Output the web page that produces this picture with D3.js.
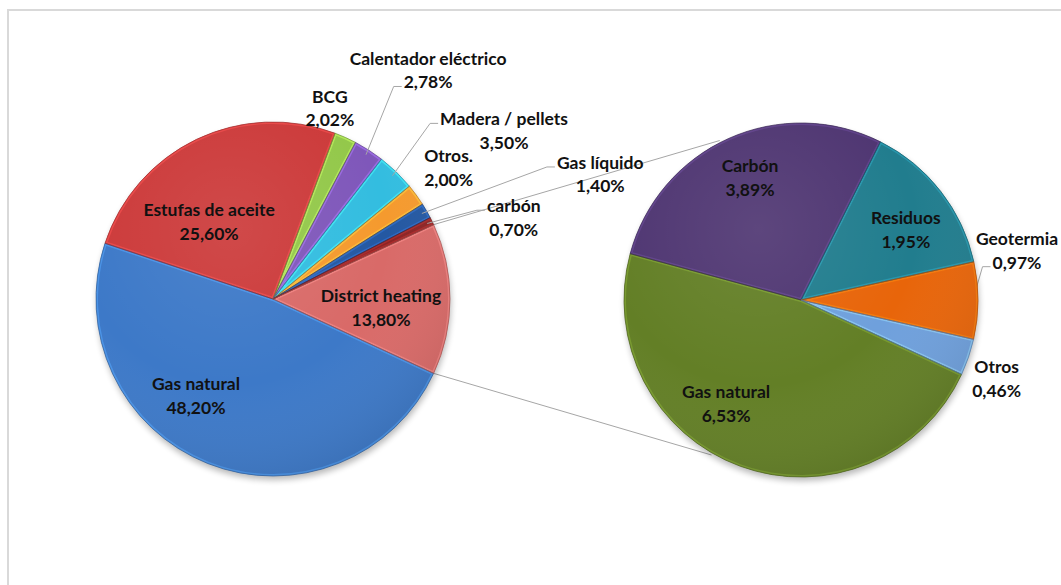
<!DOCTYPE html>
<html><head><meta charset="utf-8">
<script src="https://cdn.jsdelivr.net/npm/d3@7"></script>
<style>body{margin:0;background:#fff}</style>
</head><body><svg id="c" width="1061" height="585"></svg>
<script>
// ---- data ----
const mainCategories = ["Gas natural","Estufas de aceite","BCG","Calentador eléctrico","Madera / pellets","Otros.","Gas líquido","carbón","District heating"];
const mainValues = [48.20, 25.60, 2.02, 2.78, 3.50, 2.00, 1.40, 0.70, 13.80];
const mainColors = ["#3d79c8","#cc3a3a","#93c84a","#7f57ba","#33bde0","#f59a2e","#2458a2","#8c2424","#d96a68"];
const subCategories = ["Gas natural","Carbón","Residuos","Geotermia","Otros"];
const subColors = ["#637f26","#4f3672","#217d8e","#e8650a","#6fa0dc"];
const subValues = [6.53, 3.89, 1.95, 0.97, 0.46];

// ---- layout (label placement in polar coords: screen angle deg, radius px) ----
const mainLabelPos = [[128.4,124],[230.3,100],[286.6,199],[304.2,276],[324,285.6],[323.3,219],[339.2,350],[341.4,254],[4.8,108.4]];
const mainLeader = [null,null,null,1,0,null,0,0,null];
const subLabelPos = [[125.8,128],[247.3,132],[326.3,126],[347.2,221.5],[22,211]];
const subLeader = [null,null,null,1,null];

const svg = d3.select("#c");
const defs = svg.append("defs");
const R = 177;
const mainC = [273, 299], subC = [801, 300];
const rad = d => d * Math.PI / 180;
const polar = (c, ang, r) => [c[0] + r * Math.cos(rad(ang)), c[1] + r * Math.sin(rad(ang))];
const FS = 17.5, LH = 23.5;

// frame
svg.append("rect").attr("x",8).attr("y",10).attr("width",1060).attr("height",600)
  .attr("fill","none").attr("stroke","#d9d9d9").attr("stroke-width",2);

const f = defs.append("filter").attr("id","sh").attr("x","-20%").attr("y","-20%").attr("width","140%").attr("height","140%");
f.append("feGaussianBlur").attr("stdDeviation",3);

const g = defs.append("radialGradient").attr("id","ov").attr("cx","38%").attr("cy","30%").attr("r","80%");
g.append("stop").attr("offset","0%").attr("stop-color","#fff").attr("stop-opacity",0.08);
g.append("stop").attr("offset","55%").attr("stop-color","#fff").attr("stop-opacity",0);
g.append("stop").attr("offset","100%").attr("stop-color","#000").attr("stop-opacity",0.12);

const totalMain = d3.sum(mainValues);
const otherFrac = mainValues[mainValues.length - 1] / totalMain;
const start = Math.PI / 2 + otherFrac * Math.PI;

// connector lines
const dhHalf = otherFrac * 180;
const cTop0 = polar(mainC, -dhHalf, R), cBot0 = polar(mainC, dhHalf, R);
const cTop1 = polar(subC, -117, R + 2), cBot1 = polar(subC, 120, R + 2);
svg.append("line").attr("x1",cTop0[0]).attr("y1",cTop0[1]).attr("x2",cTop1[0]).attr("y2",cTop1[1]).attr("stroke","#a6a6a6").attr("stroke-width",1);
svg.append("line").attr("x1",cBot0[0]).attr("y1",cBot0[1]).attr("x2",cBot1[0]).attr("y2",cBot1[1]).attr("stroke","#a6a6a6").attr("stroke-width",1);

let clipId = 0;
function drawPie(center, cats, vals, cols, labelPos, leaders, key) {
  const pie = d3.pie().sort(null).value(d => d).startAngle(start).endAngle(start + 2 * Math.PI);
  const arcs = pie(vals);
  const arc = d3.arc().innerRadius(0).outerRadius(R);
  const grp = svg.append("g").attr("transform", `translate(${center[0]},${center[1]})`);
  grp.append("circle").attr("cx",1).attr("cy",4).attr("r",R).attr("fill","#000").attr("opacity",0.28).attr("filter","url(#sh)");
  arcs.forEach((a, i) => {
    const id = "cl" + key + (clipId++);
    defs.append("clipPath").attr("id", id).append("path").attr("d", arc(a)).attr("transform", `translate(${center[0]},${center[1]})`);
    const col = d3.color(cols[i]);
    grp.append("path").attr("d", arc(a)).attr("fill", col.formatHex());
    const hl = svg.append("g").attr("clip-path", `url(#${id})`);
    hl.append("path").attr("d", arc(a)).attr("transform", `translate(${center[0]},${center[1]})`)
      .attr("fill","none").attr("stroke", col.brighter(0.9).formatHex()).attr("stroke-width",4).attr("stroke-opacity",0.55).attr("stroke-linejoin","round");
  });
  const ovg = svg.append("g").attr("transform", `translate(${center[0]},${center[1]})`);
  ovg.append("circle").attr("r", R).attr("fill","url(#ov)");
  arcs.forEach((a, i) => {
    ovg.append("path").attr("d", arc(a)).attr("fill","none").attr("stroke", d3.color(cols[i]).darker(0.8).formatHex()).attr("stroke-width",0.7);
  });
  arcs.forEach((a, i) => {
    const [ang, r] = labelPos[i];
    const p = polar(center, ang, r);
    const t = svg.append("text").attr("text-anchor","middle")
      .attr("font-family","Lato, 'Open Sans', sans-serif").attr("font-weight","bold").attr("font-size",FS).attr("fill","#111");
    const l0 = t.append("tspan").attr("x", p[0]).attr("y", p[1] - LH / 2 + 6).text(cats[i]);
    const l1 = t.append("tspan").attr("x", p[0]).attr("y", p[1] + LH / 2 + 6).text(vals[i].toFixed(2).replace(".", ",") + "%");
    if (leaders[i] !== null) {
      const ln = leaders[i] === 0 ? l0 : l1;
      const bb = ln.node().getBBox();
      const ly = (leaders[i] === 0 ? p[1] - LH / 2 : p[1] + LH / 2) + 4;
      const mid = (a.startAngle + a.endAngle) / 2 * 180 / Math.PI - 90;
      const s = polar(center, mid, R * 0.97);
      const kx = bb.x - 2;
      svg.insert("polyline", "text").attr("points", [[s[0], s[1]], [kx - 8, ly], [kx, ly]].map(q => q.join(",")).join(" "))
        .attr("fill","none").attr("stroke","#a6a6a6").attr("stroke-width",1);
    }
  });
}

drawPie(mainC, mainCategories, mainValues, mainColors, mainLabelPos, mainLeader, "m");
drawPie(subC, subCategories, subValues, subColors, subLabelPos, subLeader, "s");
</script></body></html>
